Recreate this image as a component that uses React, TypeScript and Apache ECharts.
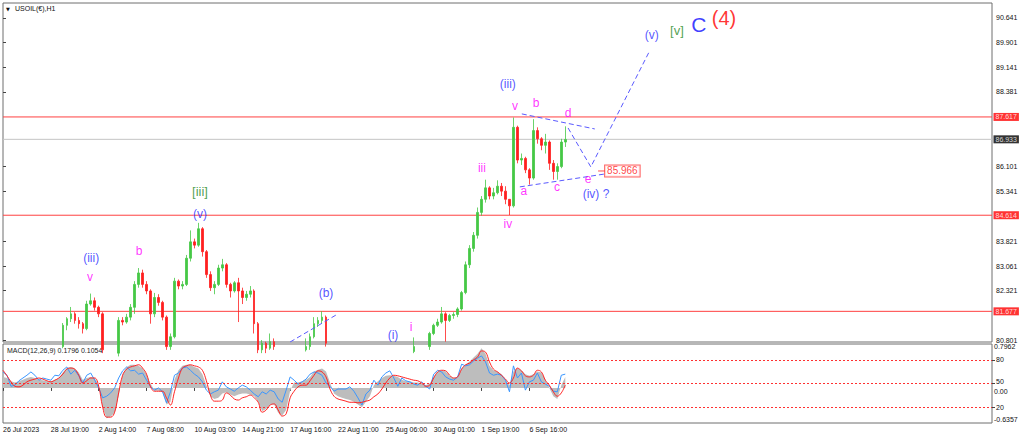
import React, { useEffect, useRef } from "react";
import * as echarts from "echarts";

const FONT = "'Liberation Sans', Arial, sans-serif";

// ---------- axes ----------
const TIME_LABELS = [
  "26 Jul 2023", "28 Jul 19:00", "2 Aug 14:00", "7 Aug 08:00", "10 Aug 03:00", "14 Aug 21:00",
  "17 Aug 16:00", "22 Aug 11:00", "25 Aug 06:00", "30 Aug 01:00", "1 Sep 19:00", "6 Sep 16:00",
];
const BARS_PER_LABEL = 12;
const SLOT_COUNT = 248;
const PRICE_MIN = 80.74;
const PRICE_MAX = 91.099;
const PRICE_TICKS = [80.801, 82.321, 83.061, 83.821, 85.341, 86.101, 88.381, 89.141, 89.901, 90.641];
const MACD_MIN = -0.6357;
const MACD_MAX = 0.7962;
const MACD_LABEL_VALUES = [0.745, -0.07, -0.575];
const MACD_LABEL_TEXT = ["0.7962", "0.00", "-0.6357"];
const LEVEL_VALUES = [80, 50, 20];
const LEVEL_LABEL_VALUES = [80, 53, 20];

// ---------- price levels ----------
const RED_LEVELS = [87.617, 84.614, 81.677];
const BID = 86.933;
const TARGET_PRICE = 85.966;
const TARGET_X = 150.1;

// ---------- candles [open, close, low, high] ----------
const CANDLES: number[][] = [
  [80.05, 80.10, 79.95, 80.20], [80.10, 80.25, 80.05, 80.32], [80.25, 80.15, 80.05, 80.30], [80.15, 80.30, 80.10, 80.38],
  [80.30, 80.20, 80.12, 80.35], [80.20, 80.35, 80.15, 80.42], [80.35, 80.25, 80.18, 80.40], [80.25, 80.40, 80.20, 80.48],
  [80.40, 80.30, 80.22, 80.45], [80.30, 80.45, 80.25, 80.52], [80.45, 80.35, 80.28, 80.50], [80.35, 80.50, 80.30, 80.56],
  [80.50, 80.40, 80.32, 80.55], [80.40, 80.55, 80.35, 80.62], [80.55, 80.60, 80.45, 80.68], [80.60, 81.25, 80.55, 81.32],
  [81.25, 81.45, 81.10, 81.50], [81.45, 81.60, 81.35, 81.81], [81.60, 81.40, 81.30, 81.65], [81.40, 81.30, 81.15, 81.50],
  [81.30, 81.15, 81.00, 81.35], [81.15, 81.90, 81.10, 82.00], [81.90, 82.00, 81.85, 82.22], [82.00, 81.80, 81.70, 82.10],
  [81.80, 81.60, 81.50, 81.85], [81.60, 80.50, 80.40, 81.65], [80.50, 80.30, 80.20, 80.55], [80.30, 80.20, 80.10, 80.40],
  [80.20, 80.40, 80.15, 80.48], [80.40, 81.40, 80.30, 81.50], [81.40, 81.35, 81.25, 81.50], [81.35, 81.50, 81.30, 81.60],
  [81.50, 81.80, 81.40, 81.90], [81.80, 82.50, 81.60, 82.60], [82.50, 82.85, 82.40, 83.00], [82.85, 82.50, 82.40, 82.95],
  [82.50, 82.30, 82.20, 82.60], [82.30, 81.60, 81.30, 82.35], [81.60, 82.10, 81.50, 82.24], [82.10, 81.95, 81.85, 82.20],
  [81.95, 81.50, 81.40, 82.00], [81.50, 80.60, 80.50, 81.55], [80.60, 80.90, 80.50, 81.00], [80.90, 82.60, 80.85, 82.70],
  [82.60, 82.45, 82.35, 82.65], [82.45, 82.50, 82.35, 82.60], [82.50, 83.30, 82.45, 83.40], [83.30, 83.80, 83.20, 84.15],
  [83.80, 83.70, 83.60, 83.90], [83.70, 84.20, 83.65, 84.38], [84.20, 83.50, 83.35, 84.25], [83.50, 82.80, 82.70, 83.55],
  [82.80, 82.40, 82.30, 82.90], [82.40, 82.50, 82.20, 82.60], [82.50, 83.00, 82.45, 83.10], [83.00, 83.10, 82.90, 83.28],
  [83.10, 82.50, 82.40, 83.15], [82.50, 82.30, 82.10, 82.55], [82.30, 82.55, 82.25, 82.60], [82.55, 82.30, 81.35, 82.70],
  [82.30, 82.10, 81.90, 82.40], [82.10, 82.20, 82.00, 82.30], [82.20, 82.30, 82.10, 82.45], [82.30, 81.30, 81.00, 82.35],
  [81.30, 80.50, 80.40, 81.35], [80.50, 80.70, 80.40, 80.80], [80.70, 80.55, 80.40, 80.75], [80.55, 80.75, 80.50, 81.00],
  [80.75, 80.60, 80.50, 80.85], [80.60, 80.50, 80.40, 80.65], [80.50, 80.40, 80.30, 80.55], [80.40, 80.30, 80.20, 80.45],
  [80.30, 80.35, 80.25, 80.42], [80.35, 80.45, 80.30, 80.50], [80.45, 80.40, 80.32, 80.52], [80.40, 80.50, 80.35, 80.58],
  [80.50, 80.60, 80.45, 80.85], [80.60, 80.90, 80.50, 81.00], [80.90, 81.30, 80.85, 81.50], [81.30, 81.40, 81.20, 81.50],
  [81.40, 81.50, 81.30, 81.68], [81.50, 80.70, 80.60, 81.55], [80.70, 80.40, 80.30, 80.72], [80.40, 80.20, 80.10, 80.45],
  [80.20, 80.00, 79.90, 80.25], [80.00, 79.90, 79.80, 80.05], [79.90, 80.10, 79.85, 80.15], [80.10, 79.95, 79.85, 80.15],
  [79.95, 79.80, 79.70, 80.00], [79.80, 79.90, 79.75, 79.98], [79.90, 80.05, 79.85, 80.10], [80.05, 79.90, 79.80, 80.10],
  [79.90, 80.10, 79.85, 80.15], [80.10, 80.20, 80.05, 80.28], [80.20, 80.10, 80.00, 80.25], [80.10, 80.00, 79.90, 80.15],
  [80.00, 80.15, 79.95, 80.20], [80.15, 80.30, 80.10, 80.35], [80.30, 80.25, 80.15, 80.38], [80.25, 80.40, 80.20, 80.45],
  [80.40, 80.35, 80.25, 80.48], [80.35, 80.50, 80.30, 80.55], [80.50, 80.45, 80.35, 80.58], [80.45, 80.60, 80.40, 80.88],
  [80.60, 80.40, 80.35, 80.65], [80.40, 80.50, 80.35, 80.55], [80.50, 80.60, 80.45, 80.66], [80.60, 81.00, 80.50, 81.05],
  [81.00, 81.25, 80.95, 81.30], [81.25, 81.35, 81.20, 81.45], [81.35, 81.60, 81.30, 81.81], [81.60, 81.40, 80.75, 81.65],
  [81.40, 81.55, 81.35, 81.60], [81.55, 81.58, 81.45, 81.65], [81.58, 81.75, 81.50, 81.80], [81.75, 82.25, 81.70, 82.30],
  [82.25, 83.10, 82.20, 83.20], [83.10, 83.60, 83.00, 83.70], [83.60, 84.00, 83.50, 84.10], [84.00, 84.70, 83.90, 84.85],
  [84.70, 85.10, 84.60, 85.20], [85.10, 85.45, 85.00, 85.70], [85.45, 85.20, 85.10, 85.50], [85.20, 85.30, 85.10, 85.45],
  [85.30, 85.50, 85.25, 85.68], [85.50, 85.35, 85.20, 85.60], [85.35, 85.10, 84.95, 85.50], [85.10, 84.90, 84.62, 85.10],
  [84.90, 87.30, 84.85, 87.60], [87.30, 86.30, 86.20, 87.35], [86.30, 86.35, 86.15, 86.50], [86.35, 86.00, 85.90, 86.40],
  [86.00, 85.75, 85.55, 86.05], [85.75, 87.20, 85.70, 87.55], [87.20, 86.95, 86.80, 87.30], [86.95, 86.75, 86.60, 87.00],
  [86.75, 86.85, 86.50, 87.10], [86.85, 86.20, 86.00, 86.90], [86.20, 85.95, 85.70, 86.30], [85.95, 86.10, 85.70, 86.20],
  [86.10, 86.85, 86.05, 86.95], [86.85, 86.93, 86.70, 87.33],
];

// ---------- MACD panel ----------
const MACD_HIST = [
  0.20, 0.18, 0.12, 0.10, 0.12, 0.15, 0.18, 0.20, 0.18, 0.15,
  0.14, 0.12, 0.12, 0.15, 0.18, 0.28, 0.36, 0.38, 0.35, 0.28,
  0.15, 0.18, 0.20, 0.18, 0.05, -0.35, -0.55, -0.52, -0.45, -0.15,
  0.25, 0.38, 0.42, 0.42, 0.40, 0.35, 0.25, 0.08, -0.05, -0.05,
  -0.08, -0.30, -0.25, 0.15, 0.32, 0.40, 0.42, 0.42, 0.38, 0.35,
  0.25, 0.05, -0.15, -0.20, -0.18, -0.10, -0.08, -0.12, -0.15, -0.12,
  -0.10, -0.10, -0.12, -0.15, -0.25, -0.42, -0.38, -0.30, -0.30, -0.45,
  -0.50, -0.40, -0.05, 0.10, 0.10, 0.12, 0.15, 0.20, 0.30, 0.33,
  0.35, 0.30, 0.10, -0.10, -0.15, -0.18, -0.20, -0.22, -0.25, -0.30,
  -0.35, -0.25, -0.15, 0.05, 0.12, 0.18, 0.22, 0.23, 0.22, 0.20,
  0.15, 0.12, 0.12, 0.10, 0.10, 0.08, 0.05, 0.08, 0.20, 0.30,
  0.32, 0.30, 0.22, 0.18, 0.20, 0.35, 0.42, 0.48, 0.55, 0.62,
  0.72, 0.62, 0.40, 0.32, 0.30, 0.25, 0.15, 0.05, 0.30, 0.36,
  0.32, 0.25, 0.22, 0.25, 0.30, 0.28, 0.15, 0.00, -0.15, -0.20,
  0.05, 0.20,
];
const MACD_BLUE = [
  0.29, 0.23, 0.03, 0.05, 0.13, 0.18, 0.23, 0.29, 0.23, 0.14,
  0.18, 0.16, 0.14, 0.23, 0.22, 0.32, 0.38, 0.25, 0.32, 0.22,
  0.09, 0.23, 0.27, 0.14, 0.00, -0.18, -0.15, -0.09, 0.00, 0.18,
  0.31, 0.38, 0.31, 0.32, 0.25, 0.27, 0.14, 0.02, -0.04, 0.00,
  -0.07, -0.27, -0.07, 0.23, 0.27, 0.36, 0.38, 0.32, 0.25, 0.20,
  0.11, -0.04, -0.11, -0.07, -0.04, 0.11, 0.02, -0.02, -0.06, 0.00,
  0.05, 0.02, -0.04, -0.11, -0.16, -0.07, -0.11, -0.04, -0.07, -0.20,
  -0.26, -0.04, 0.20, 0.14, 0.07, 0.11, 0.16, 0.25, 0.29, 0.27,
  0.23, 0.09, 0.03, -0.06, -0.02, -0.02, -0.02, 0.02, -0.06, -0.18,
  -0.31, -0.11, -0.04, 0.14, 0.05, 0.20, 0.27, 0.31, 0.18, 0.03,
  0.18, 0.13, 0.11, 0.07, 0.05, 0.11, 0.03, -0.02, 0.25, 0.32,
  0.29, 0.20, 0.16, 0.14, 0.20, 0.43, 0.40, 0.42, 0.49, 0.54,
  0.58, 0.47, 0.27, 0.23, 0.25, 0.23, 0.14, -0.07, 0.40, 0.18,
  0.27, -0.04, 0.11, 0.14, 0.27, 0.11, 0.07, 0.03, -0.06, -0.07,
  0.23, 0.25,
];
const MACD_RED = [
  0.32, 0.22, 0.11, 0.03, 0.02, 0.05, 0.11, 0.14, 0.16, 0.18,
  0.16, 0.13, 0.11, 0.14, 0.18, 0.25, 0.34, 0.36, 0.34, 0.23,
  0.09, 0.13, 0.18, 0.18, 0.03, -0.35, -0.53, -0.53, -0.44, -0.09,
  0.23, 0.34, 0.38, 0.40, 0.42, 0.36, 0.25, 0.02, -0.06, -0.06,
  -0.06, -0.18, -0.31, -0.07, 0.18, 0.36, 0.40, 0.42, 0.40, 0.38,
  0.32, 0.13, -0.13, -0.24, -0.24, -0.22, -0.09, -0.13, -0.20, -0.22,
  -0.18, -0.16, -0.13, -0.18, -0.26, -0.44, -0.40, -0.31, -0.29, -0.40,
  -0.51, -0.47, -0.18, -0.06, 0.02, 0.05, 0.05, 0.13, 0.23, 0.31,
  0.29, 0.20, -0.02, -0.15, -0.20, -0.22, -0.24, -0.26, -0.26, -0.27,
  -0.26, -0.24, -0.22, -0.16, -0.11, -0.02, 0.09, 0.18, 0.23, 0.22,
  0.20, 0.18, 0.16, 0.14, 0.13, 0.09, 0.03, 0.05, 0.18, 0.29,
  0.32, 0.31, 0.23, 0.18, 0.20, 0.34, 0.42, 0.45, 0.51, 0.56,
  0.67, 0.65, 0.47, 0.34, 0.29, 0.23, 0.16, 0.09, 0.18, 0.36,
  0.31, 0.22, 0.20, 0.23, 0.32, 0.29, 0.14, 0.05, -0.07, -0.15,
  -0.09, 0.05,
];

// ---------- drawn trend lines [barIndex, price] ----------
const LINE_B: number[][] = [[72, 80.74], [84, 81.6]];
const TRI_UPPER: number[][] = [[130.1, 87.71], [148.4, 87.25]];
const TRI_LOWER: number[][] = [[129.6, 85.48], [150.7, 85.87]];
const PROJECTION: number[][] = [[141.7, 87.28], [147.4, 86.09], [162.0, 89.6]];

// ---------- wave labels ----------
const ANNOT_TEXT = ["[iii]", "(v)", "(iii)", "v", "b", "(b)", "(i)", "i", "iii", "iv", "(iii)", "v", "b", "d", "a", "c", "e", "(iv) ?", "(v)", "[v]", "C", "(4)"];
const ANNOT_KIND = ["green", "blue", "blue", "pink", "pink", "blue", "blue", "pink", "pink", "pink", "blue", "pink", "pink", "pink", "pink", "pink", "pink", "blue", "blue", "green", "bigBlue", "bigRed"];
const ANNOT_X = [49.4, 49.4, 22.1, 21.8, 34.1, 81.0, 97.8, 102.3, 120.1, 126.6, 126.6, 128.4, 133.7, 141.7, 130.6, 138.9, 146.7, 148.7, 162.7, 169.0, 174.5, 180.8];
const ANNOT_P = [85.35, 84.65, 83.31, 82.72, 83.52, 82.24, 80.96, 81.2, 86.06, 84.35, 88.62, 87.95, 88.04, 87.74, 85.35, 85.48, 85.72, 85.26, 90.12, 90.27, 90.43, 90.64];

const KIND_STYLE: Record<string, { color: string; fontSize: number }> = {
  green: { color: "#1f8a1f", fontSize: 13 },
  blue: { color: "#2a2aff", fontSize: 12 },
  pink: { color: "#ff00ff", fontSize: 12 },
  bigBlue: { color: "#0d0dff", fontSize: 21 },
  bigRed: { color: "#ff0000", fontSize: 20 },
};

const TIME_TICKS = TIME_LABELS.map((_, i) => i * BARS_PER_LABEL);

function dashed(data: number[][]) {
  return {
    type: "line",
    xAxisIndex: 0,
    yAxisIndex: 0,
    data,
    symbol: "none",
    silent: true,
    lineStyle: { color: "#5a5aff", width: 1, type: [5, 3] },
    z: 4,
  };
}

function levelSeries(value: number, lineColor: string) {
  return {
    type: "line",
    xAxisIndex: 0,
    yAxisIndex: 0,
    data: [[0, value], [SLOT_COUNT, value]],
    symbol: "none",
    silent: true,
    color: lineColor,
    lineStyle: { color: lineColor, width: 1, type: "solid" },
    z: 2,
  };
}

function buildOption() {
  const axisText = { fontFamily: FONT, fontSize: 7, color: "#111" };
  const boxes = [
    ...RED_LEVELS.map((v) => ({ v, bg: "#ff0000" })),
    { v: BID, bg: "#000000" },
  ];
  return {
    animation: false,
    backgroundColor: "#ffffff",
    textStyle: { fontFamily: FONT },
    grid: [
      { left: 3, right: 32, top: 3, bottom: 99, show: true, borderColor: "#6e6e6e", borderWidth: 1, backgroundColor: "#fff" },
      { left: 3, right: 32, top: 344, bottom: 18, show: true, borderColor: "#6e6e6e", borderWidth: 1, backgroundColor: "#fff" },
    ],
    xAxis: [
      { type: "value", gridIndex: 0, min: 0, max: SLOT_COUNT, show: false },
      {
        type: "value",
        gridIndex: 1,
        min: 0,
        max: SLOT_COUNT,
        axisLine: { show: false },
        splitLine: { show: false },
        axisTick: { show: true, customValues: TIME_TICKS, length: 3, lineStyle: { color: "#444" } },
        axisLabel: {
          ...axisText,
          customValues: TIME_TICKS,
          align: "left",
          margin: 3,
          formatter: (v: number) => TIME_LABELS[Math.round(v / BARS_PER_LABEL)] ?? "",
        },
      },
    ],
    yAxis: [
      {
        type: "value",
        gridIndex: 0,
        position: "right",
        min: PRICE_MIN,
        max: PRICE_MAX,
        axisLine: { show: false },
        splitLine: { show: false },
        axisTick: { show: true, customValues: PRICE_TICKS, length: 3, lineStyle: { color: "#444" } },
        axisLabel: { ...axisText, customValues: PRICE_TICKS, margin: 4, formatter: (v: number) => v.toFixed(3) },
      },
      {
        type: "value",
        gridIndex: 1,
        position: "right",
        min: MACD_MIN,
        max: MACD_MAX,
        axisLine: { show: false },
        splitLine: { show: false },
        axisTick: { show: false },
        axisLabel: {
          ...axisText,
          customValues: MACD_LABEL_VALUES,
          margin: 2,
          formatter: (v: number) => {
            const k = MACD_LABEL_VALUES.findIndex((m) => Math.abs(m - v) < 1e-6);
            return k >= 0 ? MACD_LABEL_TEXT[k] : "";
          },
        },
      },
      {
        type: "value",
        gridIndex: 1,
        position: "right",
        min: 0,
        max: 100,
        axisLine: { show: false },
        splitLine: { show: false },
        axisTick: { show: true, customValues: LEVEL_VALUES, length: 3, lineStyle: { color: "#444" } },
        axisLabel: {
          ...axisText,
          customValues: LEVEL_LABEL_VALUES,
          margin: 4,
          formatter: (v: number) => String(LEVEL_VALUES[LEVEL_LABEL_VALUES.indexOf(v)] ?? ""),
        },
      },
    ],
    graphic: [
      { type: "text", left: 6, top: 6, style: { text: "▼", fontSize: 5, fill: "#111", fontFamily: "DejaVu Sans" } },
      { type: "text", left: 15, top: 5, style: { text: "USOIL(€),H1", fontSize: 7, fill: "#111", fontFamily: FONT } },
      { type: "text", left: 7, top: 347, style: { text: "MACD(12,26,9) 0.1796 0.1054", fontSize: 7, fill: "#222", fontFamily: FONT } },
    ],
    series: [
      levelSeries(BID, "#c4c4c4"),
      ...RED_LEVELS.map((v) => levelSeries(v, "#ff4040")),
      {
        type: "scatter",
        xAxisIndex: 0,
        yAxisIndex: 0,
        silent: true,
        clip: false,
        symbolSize: 1,
        itemStyle: { color: "rgba(0,0,0,0)" },
        data: boxes.map((b) => ({
          value: [SLOT_COUNT, b.v],
          label: {
            show: true,
            position: "right",
            distance: 1,
            formatter: b.v.toFixed(3),
            color: "#fff",
            backgroundColor: b.bg,
            padding: [1, 2, 0, 2],
            fontSize: 7,
            fontFamily: FONT,
          },
        })),
        z: 8,
      },
      {
        type: "candlestick",
        xAxisIndex: 0,
        yAxisIndex: 0,
        barWidth: 2,
        data: CANDLES.map((c, i) => [i, c[0], c[1], c[2], c[3]]),
        itemStyle: {
          color: "#45c845",
          color0: "#ff1f1f",
          borderColor: "#45c845",
          borderColor0: "#ff1f1f",
          borderWidth: 0.8,
        },
        z: 3,
      },
      dashed(LINE_B),
      dashed(TRI_UPPER),
      dashed(TRI_LOWER),
      dashed(PROJECTION),
      {
        type: "scatter",
        xAxisIndex: 0,
        yAxisIndex: 0,
        silent: true,
        symbol: "rect",
        symbolSize: [7, 1],
        itemStyle: { color: "#ff2020" },
        data: [[TARGET_X, TARGET_PRICE]],
        label: {
          show: true,
          position: "right",
          distance: 0,
          formatter: TARGET_PRICE.toFixed(3),
          color: "#ff1010",
          backgroundColor: "#fff",
          borderColor: "#ff4040",
          borderWidth: 1,
          padding: [1, 2, 0, 2],
          fontSize: 10,
          fontFamily: FONT,
        },
        z: 6,
      },
      {
        type: "scatter",
        xAxisIndex: 0,
        yAxisIndex: 0,
        silent: true,
        symbolSize: 1,
        itemStyle: { color: "rgba(0,0,0,0)" },
        data: ANNOT_TEXT.map((t, i) => ({
          value: [ANNOT_X[i], ANNOT_P[i]],
          label: {
            show: true,
            position: "inside",
            formatter: t,
            color: KIND_STYLE[ANNOT_KIND[i]].color,
            fontSize: KIND_STYLE[ANNOT_KIND[i]].fontSize,
            fontFamily: FONT,
          },
        })),
        z: 7,
      },
      {
        type: "line",
        xAxisIndex: 1,
        yAxisIndex: 1,
        data: MACD_HIST.map((v, i) => [i, v]),
        symbol: "none",
        silent: true,
        lineStyle: { width: 0 },
        areaStyle: { color: "#bdbdbd", opacity: 1 },
        z: 2,
      },
      {
        type: "line",
        xAxisIndex: 1,
        yAxisIndex: 2,
        data: [[0, 50]],
        symbol: "none",
        silent: true,
        lineStyle: { width: 0 },
        markLine: {
          silent: true,
          symbol: ["none", "none"],
          label: { show: false },
          lineStyle: { color: "#ff3030", width: 1, type: [2, 2] },
          data: LEVEL_VALUES.map((v) => ({ yAxis: v })),
        },
        z: 3,
      },
      {
        type: "line",
        xAxisIndex: 1,
        yAxisIndex: 1,
        data: MACD_BLUE.map((v, i) => [i, v]),
        symbol: "none",
        silent: true,
        lineStyle: { color: "#3a96ff", width: 1 },
        z: 4,
      },
      {
        type: "line",
        xAxisIndex: 1,
        yAxisIndex: 1,
        data: MACD_RED.map((v, i) => [i, v]),
        symbol: "none",
        silent: true,
        smooth: 0.4,
        lineStyle: { color: "#ff2424", width: 1 },
        z: 5,
      },
    ],
  };
}

export default function App() {
  const ref = useRef<HTMLDivElement>(null);
  useEffect(() => {
    if (!ref.current) return;
    const chart = echarts.init(ref.current, null, { renderer: "svg" });
    chart.setOption(buildOption() as any);
    return () => chart.dispose();
  }, []);
  return (
    <div
      ref={ref}
      style={{ position: "absolute", left: 0, top: 0, width: 1024, height: 441, background: "#fff" }}
    />
  );
}
